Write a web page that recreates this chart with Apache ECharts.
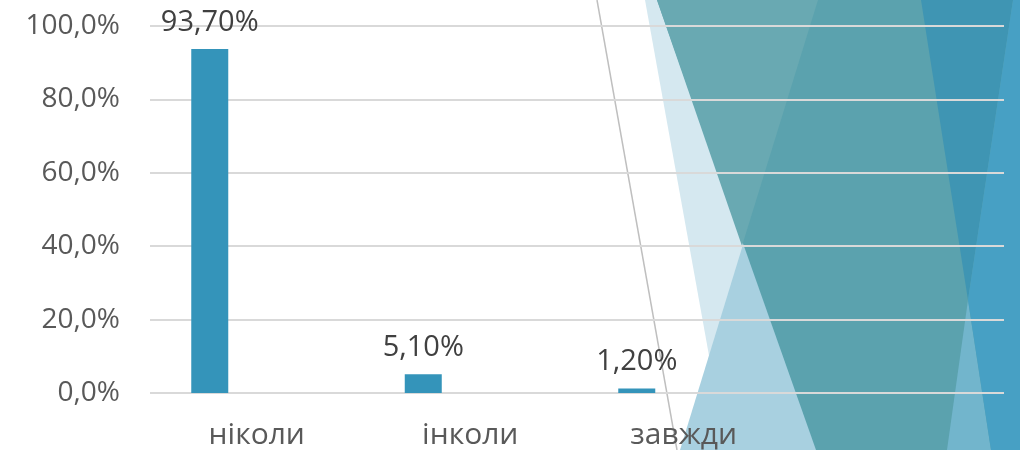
<!DOCTYPE html>
<html>
<head>
<meta charset="utf-8">
<script src="https://cdn.jsdelivr.net/npm/echarts@6/dist/echarts.min.js"></script>
<style>
  html, body { margin: 0; padding: 0; background: #fff; }
  #chart { width: 1020px; height: 450px; }
</style>
</head>
<body>
<div id="chart"></div>
<script>
// категорії (четверта порожня, як у слайді)
const categories = ['ніколи', 'інколи', 'завжди', '']
const values = [93.7, 5.1, 1.2, null]
const emptyValues = [null, null, null, null]
const yTicks = { min: 0, max: 100, interval: 20 }

const fontFamily = '"Open Sans", "Noto Sans", sans-serif'
const barColor = '#3494ba'

// фонові трикутники теми оформлення
const decor = [
  { points: [[645, 0], [1020, 0], [1020, 450], [726, 450]], fill: '#d5e8f0' },
  { points: [[680, 450], [818, 0], [1020, 0], [1020, 450]], fill: '#a8d0e0' },
  { points: [[657, 0], [1020, 0], [1020, 450], [816, 450]], fill: '#5ba2ae' },
  { points: [[657, 0], [818, 0], [742, 246]], fill: '#69a9b2' },
  { points: [[921, 0], [1013, 0], [968, 300]], fill: '#3f95b3' },
  { points: [[968, 300], [947, 450], [991, 450]], fill: '#72b5cc' },
  { points: [[1013, 0], [1020, 0], [1020, 450], [991, 450], [968, 300]], fill: '#47a0c4' }
]

const fmtAxis = v => v.toFixed(1).replace('.', ',') + '%'
const fmtLabel = p => p.value.toFixed(2).replace('.', ',') + '%'

const myChart = echarts.init(document.getElementById('chart'))

const graphicEls = decor.map(d => ({
  type: 'polygon',
  z: -10,
  silent: true,
  shape: { points: d.points },
  style: { fill: d.fill }
}))
graphicEls.push({
  type: 'line',
  z: -9,
  silent: true,
  shape: { x1: 597, y1: 0, x2: 677, y2: 450 },
  style: { stroke: '#bfbfbf', lineWidth: 1.5 }
})

const option = {
  animation: false,
  graphic: { elements: graphicEls },
  grid: { left: 150, right: 16, top: 26, bottom: 57 },
  xAxis: {
    type: 'category',
    data: categories,
    axisLine: { show: false },
    axisTick: { show: false },
    axisLabel: { color: '#595959', fontSize: 30, fontFamily, margin: 27 }
  },
  yAxis: {
    type: 'value',
    min: yTicks.min,
    max: yTicks.max,
    interval: yTicks.interval,
    axisLine: { show: false },
    axisTick: { show: false },
    splitLine: { lineStyle: { color: '#d9d9d9', width: 2 } },
    axisLabel: { color: '#595959', fontSize: 28, fontFamily, margin: 30, formatter: fmtAxis }
  },
  series: [
    {
      type: 'bar',
      data: values,
      barWidth: 37,
      barGap: '154%',
      itemStyle: { color: barColor },
      label: {
        show: true,
        position: 'top',
        distance: 12,
        color: '#404040',
        fontSize: 29,
        fontFamily,
        formatter: fmtLabel
      }
    },
    {
      type: 'bar',
      data: emptyValues,
      barWidth: 37,
      itemStyle: { color: barColor }
    }
  ]
}
myChart.setOption(option)
</script>
</body>
</html>
